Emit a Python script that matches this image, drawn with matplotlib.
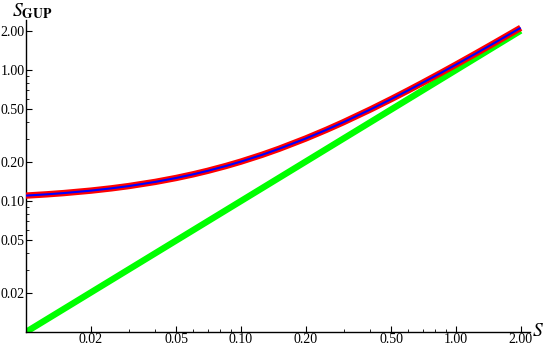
import numpy as np
import matplotlib.pyplot as plt
from matplotlib.ticker import FixedLocator, FixedFormatter, NullFormatter

plt.rcParams['font.family'] = ['Liberation Serif', 'DejaVu Serif']
plt.rcParams['mathtext.fontset'] = 'stix'

# values
s_vals = [0.01, 0.0125, 0.015, 0.02, 0.025, 0.03, 0.04, 0.05, 0.06, 0.07, 0.085, 0.1,
          0.125, 0.15, 0.2, 0.25, 0.3, 0.4, 0.5, 0.6, 0.7, 0.85, 1.0, 1.25, 1.5, 2.0]
s_gup = [0.11, 0.1125, 0.115, 0.12, 0.125, 0.13, 0.14, 0.15, 0.16, 0.17, 0.185, 0.20,
         0.225, 0.25, 0.30, 0.35, 0.40, 0.50, 0.60, 0.70, 0.80, 0.95, 1.10, 1.35, 1.60, 2.10]
s_line = [0.01, 2.0]
s_line_y = [0.01, 2.0]

x_major = [0.02, 0.05, 0.1, 0.2, 0.5, 1.0, 2.0]
x_labels = ["0.02", "0.05", "0.10", "0.20", "0.50", "1.00", "2.00"]
y_major = [0.02, 0.05, 0.1, 0.2, 0.5, 1.0, 2.0]
y_labels = ["0.02", "0.05", "0.10", "0.20", "0.50", "1.00", "2.00"]
minor = [m * 10.0**k for k in (-2, -1, 0) for m in (1, 3, 4, 6, 7, 8, 9)]

fig = plt.figure(figsize=(5.45, 3.5), dpi=100)
ax = fig.add_axes([26/545, 18/350, 504/545, 312/350])

ax.plot(s_line, s_line_y, color="#00ff00", lw=4.6, solid_capstyle="butt", zorder=2)
ax.plot(s_vals, s_gup, color="#ff0000", lw=4.6, solid_capstyle="butt", zorder=3)
ax.plot(s_vals, s_gup, color="#0000ff", lw=1.5, solid_capstyle="butt", zorder=4)

ax.set_xscale("log")
ax.set_yscale("log")
ax.set_xlim(0.01, 2.21)
ax.set_ylim(0.01, 2.41)

ax.spines["top"].set_visible(False)
ax.spines["right"].set_visible(False)
for sp in ("left", "bottom"):
    ax.spines[sp].set_linewidth(1.0)

ax.xaxis.set_major_locator(FixedLocator(x_major))
ax.xaxis.set_major_formatter(FixedFormatter(x_labels))
ax.yaxis.set_major_locator(FixedLocator(y_major))
ax.yaxis.set_major_formatter(FixedFormatter(y_labels))
ax.xaxis.set_minor_locator(FixedLocator([m for m in minor if m < 2.2]))
ax.yaxis.set_minor_locator(FixedLocator([m for m in minor if m < 2.4]))
ax.xaxis.set_minor_formatter(NullFormatter())
ax.yaxis.set_minor_formatter(NullFormatter())
ax.tick_params(which="major", direction="in", length=4, width=0.8, labelsize=10, pad=1)
ax.tick_params(which="minor", direction="in", length=2, width=0.6)

ax.text(1.004, 0.0, r"$S$", transform=ax.transAxes, fontsize=14, ha="left", va="center")
fig.text(12/545, 1 - 1/350, r"$S_{\mathbf{GUP}}$", fontsize=14, ha="left", va="top")

fig.savefig("out.png", dpi=100)
